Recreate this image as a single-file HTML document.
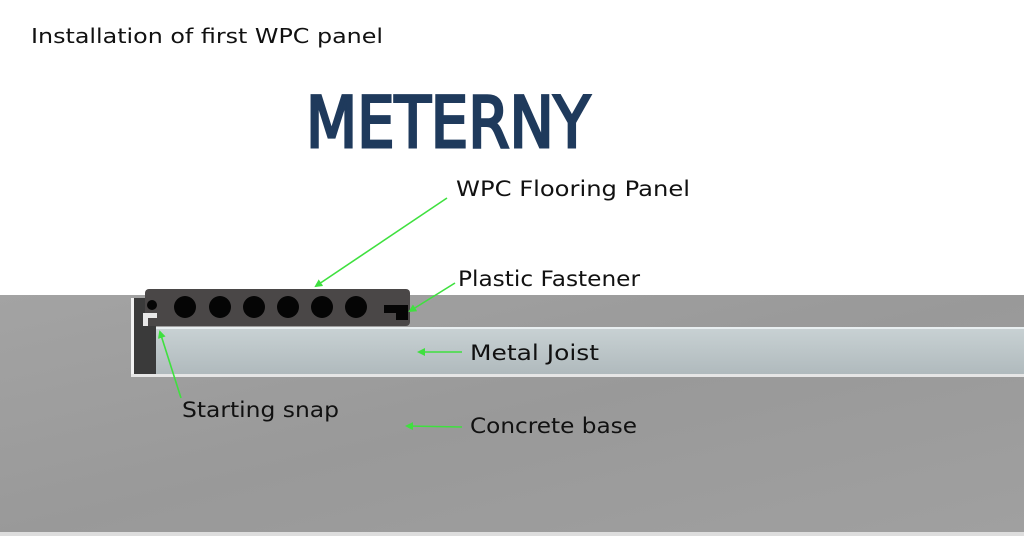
<!DOCTYPE html>
<html><head><meta charset="utf-8"><style>
body{margin:0;width:1024px;height:536px;overflow:hidden;background:#fff;font-family:"DejaVu Sans","Liberation Sans",sans-serif;}
</style></head><body>
<svg width="1024" height="536" viewBox="0 0 1024 536" xmlns="http://www.w3.org/2000/svg">
<defs>
<linearGradient id="c" x1="0" y1="0" x2="1" y2="1">
<stop offset="0" stop-color="#a3a3a3"/><stop offset="0.5" stop-color="#999"/><stop offset="1" stop-color="#a0a0a0"/></linearGradient>
<linearGradient id="j" x1="0" y1="0" x2="0" y2="1">
<stop offset="0" stop-color="#c9d2d4"/><stop offset="1" stop-color="#b0babd"/></linearGradient>
<marker id="a" markerWidth="8" markerHeight="8" refX="6" refY="4" orient="auto" markerUnits="userSpaceOnUse">
<path d="M0,0 L8,4 L0,8 z" fill="#3fe03f"/></marker>
</defs>
<rect x="0" y="295" width="1024" height="241" fill="url(#c)"/>
<rect x="0" y="532" width="1024" height="4" fill="#ddd"/>
<text x="31" y="43" font-size="20" fill="#111" textLength="352" lengthAdjust="spacingAndGlyphs">Installation of first WPC panel</text>
<text x="306" y="147" font-size="70" fill="#1f3a5c" stroke="#1f3a5c" stroke-width="3" stroke-linejoin="miter" textLength="284" lengthAdjust="spacingAndGlyphs">METERNY</text>
<rect x="131" y="298" width="3" height="78" fill="#f2f2f2"/>
<rect x="134" y="298" width="22" height="76" fill="#3a3a3a"/>
<rect x="131" y="374" width="893" height="3" fill="#e6e6e6"/>
<rect x="156" y="327" width="868" height="47" fill="url(#j)"/>
<rect x="156" y="327" width="868" height="2" fill="#e8eef0"/>
<rect x="145" y="289" width="265" height="37" rx="4" fill="#4a4747"/>
<g fill="#050505">
<circle cx="185" cy="307" r="11"/><circle cx="220" cy="307" r="11"/><circle cx="254" cy="307" r="11"/>
<circle cx="288" cy="307" r="11"/><circle cx="322" cy="307" r="11"/><circle cx="356" cy="307" r="11"/>
<ellipse cx="152" cy="305" rx="5" ry="5"/>
<rect x="384" y="305" width="18" height="8"/><rect x="396" y="305" width="12" height="15"/>
</g>
<path d="M143 313 h14 v5 h-9 v8 h-5 z" fill="#e8e8e8"/>
<g stroke="#3fe03f" stroke-width="1.6" fill="none" marker-end="url(#a)">
<line x1="447" y1="198" x2="316" y2="286"/>
<line x1="455" y1="283" x2="410" y2="311"/>
<line x1="462" y1="352" x2="419" y2="352"/>
<line x1="181" y1="398" x2="160" y2="332"/>
<line x1="462" y1="427" x2="407" y2="426"/>
</g>
<g font-size="21" fill="#111">
<text x="456" y="196" textLength="234" lengthAdjust="spacingAndGlyphs">WPC Flooring Panel</text>
<text x="458" y="286" textLength="182" lengthAdjust="spacingAndGlyphs">Plastic Fastener</text>
<text x="470" y="360" textLength="129" lengthAdjust="spacingAndGlyphs">Metal Joist</text>
<text x="182" y="417" textLength="157" lengthAdjust="spacingAndGlyphs">Starting snap</text>
<text x="470" y="433" textLength="167" lengthAdjust="spacingAndGlyphs">Concrete base</text>
</g>
</svg>
</body></html>
